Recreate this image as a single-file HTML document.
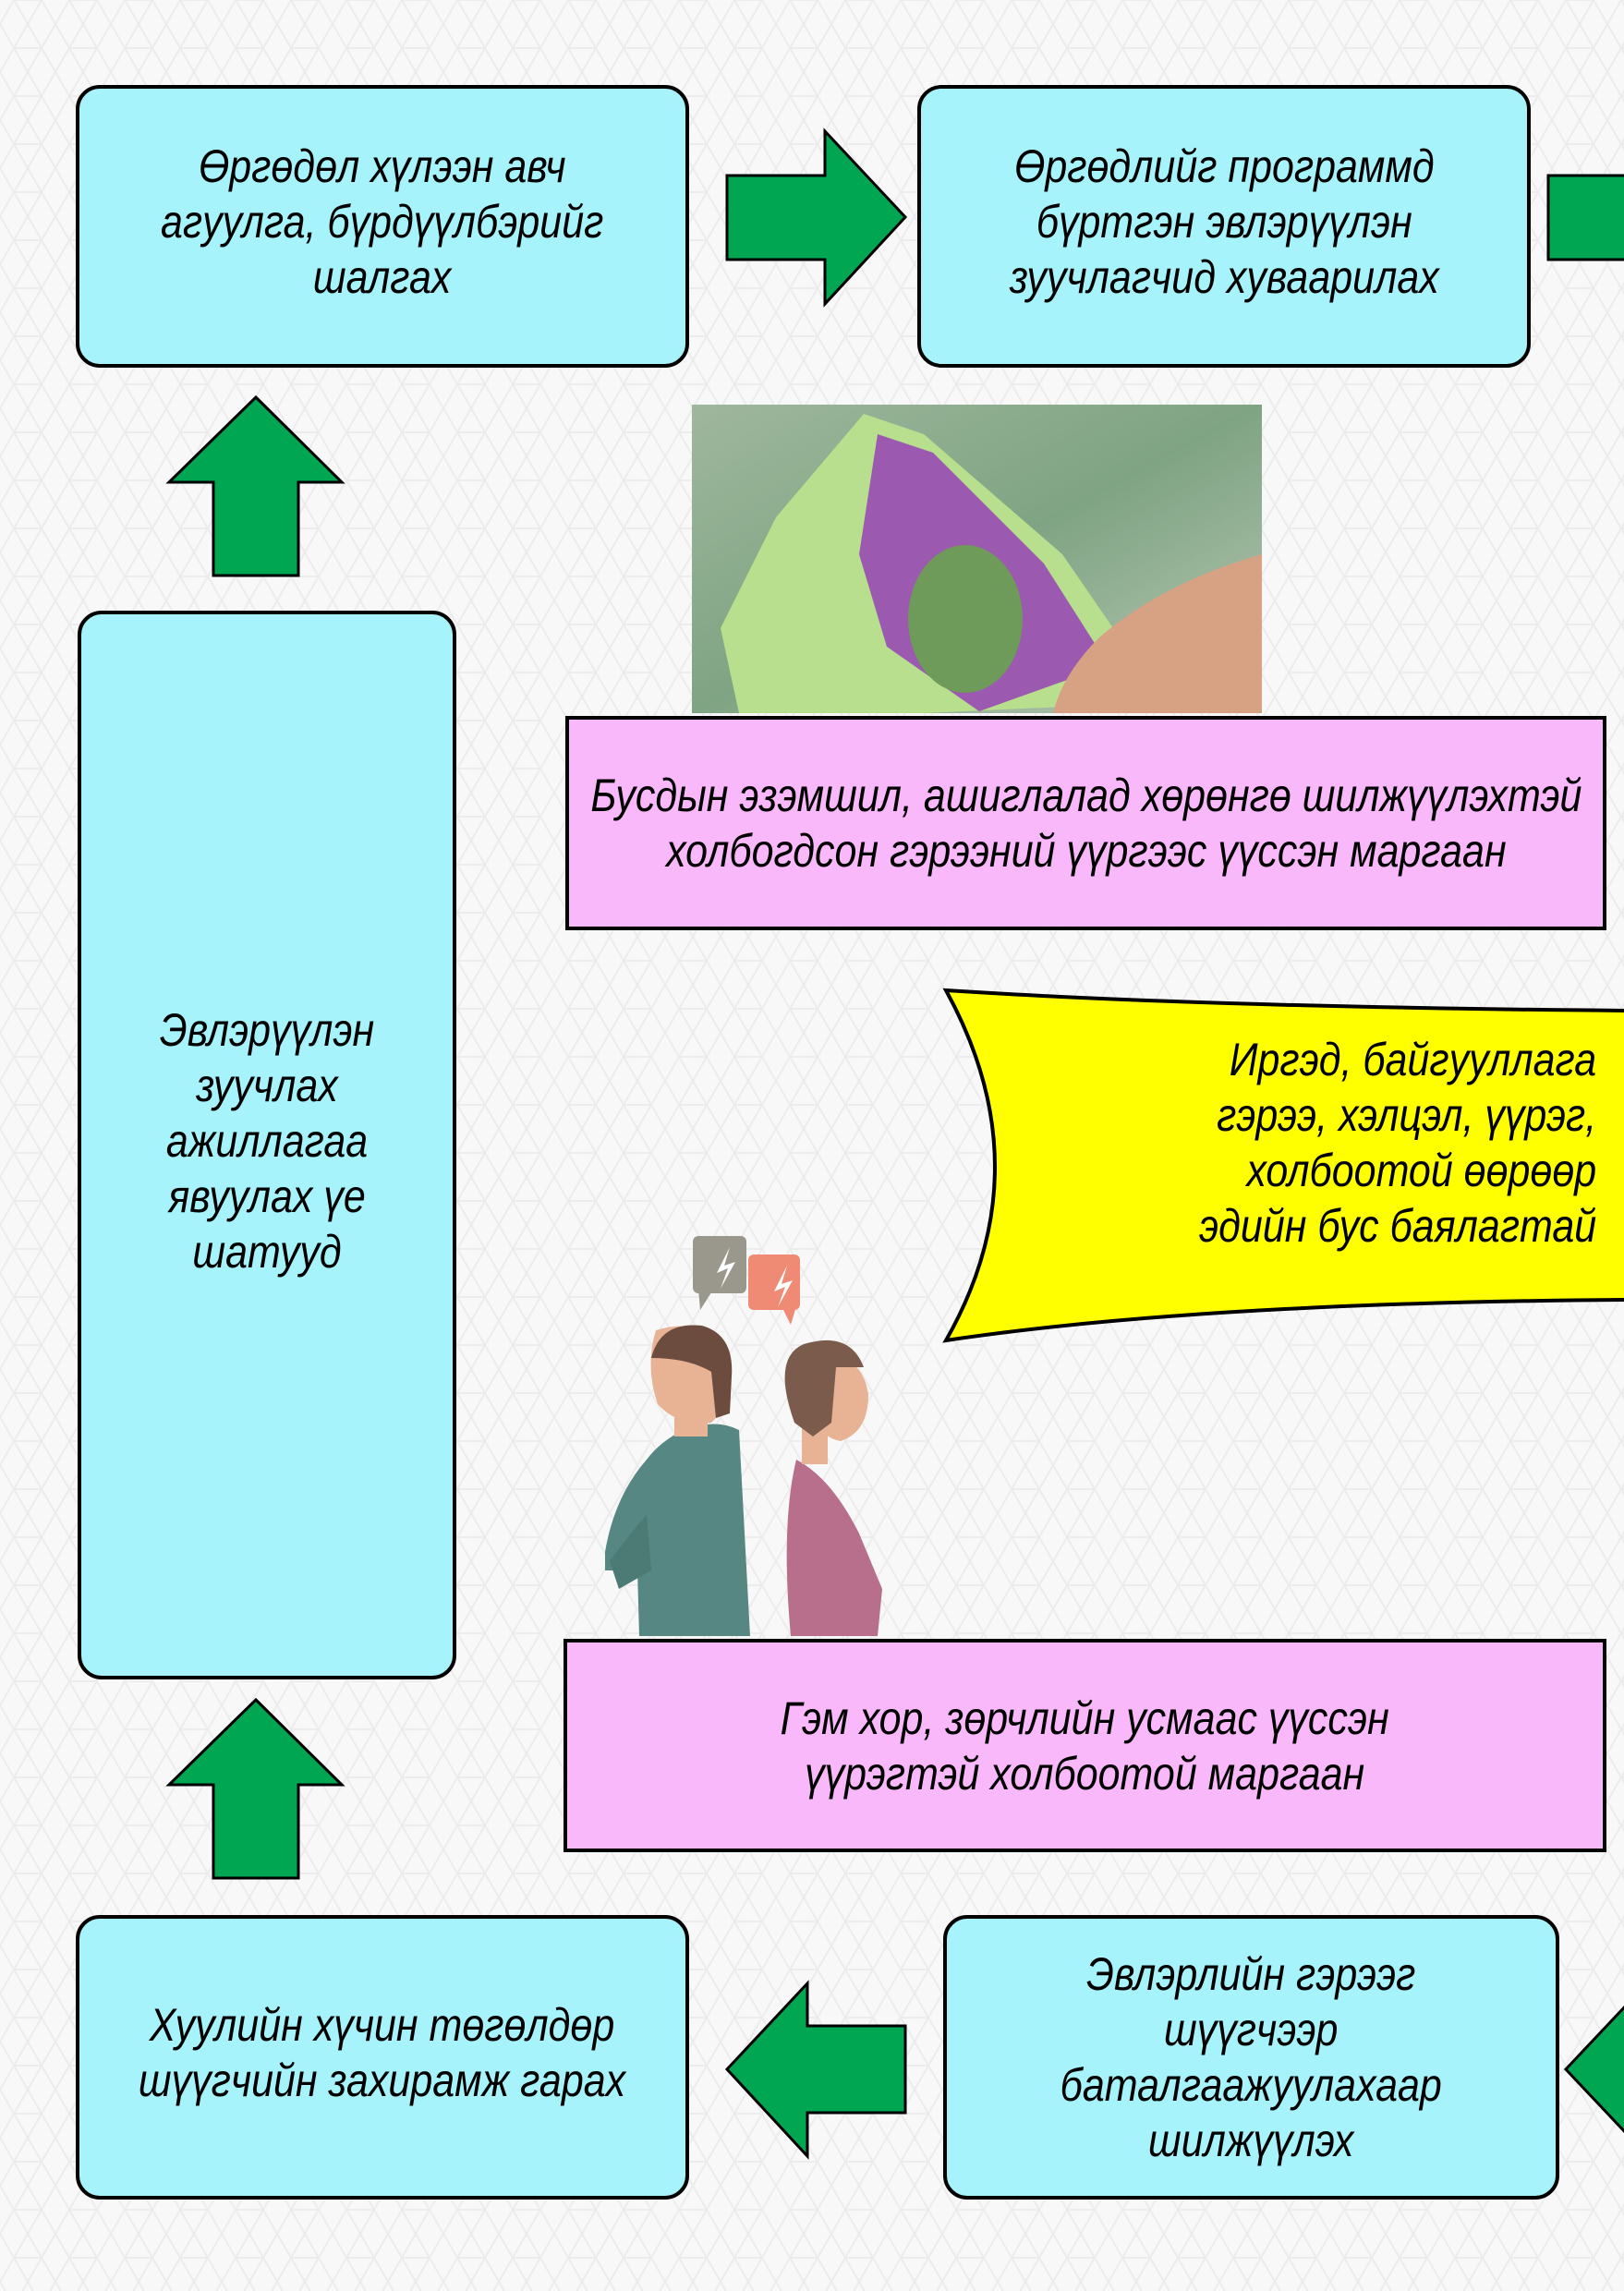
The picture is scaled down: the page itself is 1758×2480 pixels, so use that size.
<!DOCTYPE html>
<html><head><meta charset="utf-8"><style>
html,body{margin:0;padding:0}
body{width:1758px;height:2480px;position:relative;overflow:hidden;background:#f8f8f8;font-family:"Liberation Sans",sans-serif;font-style:italic;color:#000}
.b{position:absolute;box-sizing:border-box;border:4px solid #000;display:flex;align-items:center;justify-content:center;text-align:center;font-size:50px;line-height:60px}
.b span,.y span{display:inline-block;white-space:nowrap;transform:scaleX(.86)}
.b span{margin-top:-10px}
.c{background:#a6f3fb;border-radius:26px}
.p{background:#f9b8f9}
svg{position:absolute;left:0;top:0}
</style></head><body>
<svg width="1758" height="2480">
<defs>
<linearGradient id="bg" x1="0" y1="0" x2="1" y2="1"><stop offset="0" stop-color="#9fb79d"/><stop offset="0.5" stop-color="#7fa483"/><stop offset="1" stop-color="#b9c8b6"/></linearGradient>
<pattern id="hx" width="60" height="52" patternUnits="userSpaceOnUse"><path d="M0 26 L15 0 L45 0 L60 26 L45 52 L15 52 Z M15 0 L30 26 L15 52 M45 0 L30 26 L45 52" fill="none" stroke="#ececec" stroke-width="2"/></pattern>
</defs>
<rect width="1758" height="2480" fill="url(#hx)"/>
<polygon points="787,190 893,190 893,142 980,235 893,329 893,281 787,281" fill="#00a651" stroke="#000" stroke-width="3"/>
<polygon points="1676,190 1762,190 1762,281 1676,281" fill="#00a651" stroke="#000" stroke-width="3"/>
<polygon points="231,623 231,522 183,522 277,430 370,522 323,522 323,623" fill="#00a651" stroke="#000" stroke-width="3"/>
<polygon points="231,2033 231,1932 183,1932 277,1840 370,1932 323,1932 323,2033" fill="#00a651" stroke="#000" stroke-width="3"/>
<polygon points="980,2193 874,2193 874,2147 787,2240 874,2334 874,2287 980,2287" fill="#00a651" stroke="#000" stroke-width="3"/>
<polygon points="1762,2169 1695,2240 1762,2311" fill="#00a651" stroke="#000" stroke-width="3"/>
<rect x="749" y="438" width="617" height="334" fill="url(#bg)"/>
<polygon points="935,448 1000,470 1150,600 1260,760 1000,772 800,772 780,680 840,560" fill="#b7df8e"/>
<polygon points="950,470 1010,490 1130,610 1200,720 1060,770 960,700 930,600" fill="#9b5ab0"/>
<ellipse cx="1045" cy="670" rx="62" ry="80" fill="#6e9a5a"/>
<path d="M1190 690 Q1260 630 1366 600 L1366 772 L1140 772 Q1150 730 1190 690Z" fill="#d7a283"/>
<path d="M1024 1072 Q1300 1090 1762 1094 L1762 1407 Q1300 1410 1024 1451 Q1130 1265 1024 1072Z" fill="#ffff00" stroke="#000" stroke-width="4"/>
<rect x="750" y="1338" width="58" height="62" rx="6" fill="#9a978c"/>
<polygon points="756,1396 772,1396 758,1418" fill="#9a978c"/>
<rect x="810" y="1358" width="56" height="60" rx="6" fill="#ef8b75"/>
<polygon points="846,1414 862,1414 856,1434" fill="#ef8b75"/>
<polygon points="790,1350 776,1378 788,1373 780,1395 796,1366 784,1370" fill="#fff"/>
<polygon points="852,1370 838,1398 850,1393 842,1415 858,1386 846,1390" fill="#fff"/>
<path d="M740 1548 Q775 1535 800 1548 L812 1771 L692 1771 L690 1700 L655 1700 L655 1680 Q665 1620 700 1580 Q715 1560 740 1548Z" fill="#568782"/>
<rect x="730" y="1505" width="36" height="50" fill="#e8b295"/>
<path d="M710 1440 Q760 1425 785 1460 L790 1520 L770 1540 Q735 1545 712 1520 Q698 1480 710 1440Z" fill="#e8b295"/>
<path d="M705 1470 Q715 1430 760 1435 Q795 1445 792 1490 L790 1530 L775 1535 L770 1485 Q745 1470 705 1470Z" fill="#6b4c3e"/>
<path d="M660 1690 Q690 1650 700 1640 L705 1700 L670 1720Z" fill="#4c7a75"/>
<path d="M862 1580 Q900 1600 930 1660 L955 1720 L950 1771 L856 1771 Q845 1650 862 1580Z" fill="#b76f8b"/>
<rect x="868" y="1530" width="28" height="55" fill="#e8b295"/>
<path d="M890 1460 Q935 1470 940 1510 Q940 1550 910 1560 Q880 1555 880 1510Z" fill="#e8b295"/>
<path d="M860 1540 Q835 1470 870 1455 Q920 1440 935 1480 L905 1480 L900 1540 L880 1555Z" fill="#7b5b4c"/>
</svg>
<div class="b c" style="left:82px;top:92px;width:664px;height:306px"><span>Өргөдөл хүлээн авч<br>агуулга, бүрдүүлбэрийг<br>шалгах</span></div>
<div class="b c" style="left:993px;top:92px;width:664px;height:306px"><span>Өргөдлийг программд<br>бүртгэн эвлэрүүлэн<br>зуучлагчид хуваарилах</span></div>
<div class="b c" style="left:84px;top:661px;width:410px;height:1157px"><span style="margin-top:-10px">Эвлэрүүлэн<br>зуучлах<br>ажиллагаа<br>явуулах үе<br>шатууд</span></div>
<div class="b p" style="left:612px;top:775px;width:1127px;height:232px"><span style="margin-top:0">Бусдын эзэмшил, ашиглалад хөрөнгө шилжүүлэхтэй<br>холбогдсон гэрээний үүргээс үүссэн маргаан</span></div>
<div class="y" style="position:absolute;right:30px;top:1117px;text-align:right;font-size:50px;line-height:60px"><span style="transform-origin:right center">Иргэд, байгууллага<br>гэрээ, хэлцэл, үүрэг,<br>холбоотой өөрөөр<br>эдийн бус баялагтай</span></div>
<div class="b p" style="left:610px;top:1774px;width:1129px;height:231px"><span style="margin-top:0">Гэм хор, зөрчлийн усмаас үүссэн<br>үүрэгтэй холбоотой маргаан</span></div>
<div class="b c" style="left:82px;top:2073px;width:664px;height:308px"><span>Хуулийн хүчин төгөлдөр<br>шүүгчийн захирамж гарах</span></div>
<div class="b c" style="left:1021px;top:2073px;width:667px;height:308px"><span style="margin-top:0">Эвлэрлийн гэрээг<br>шүүгчээр<br>баталгаажуулахаар<br>шилжүүлэх</span></div>
</body></html>
